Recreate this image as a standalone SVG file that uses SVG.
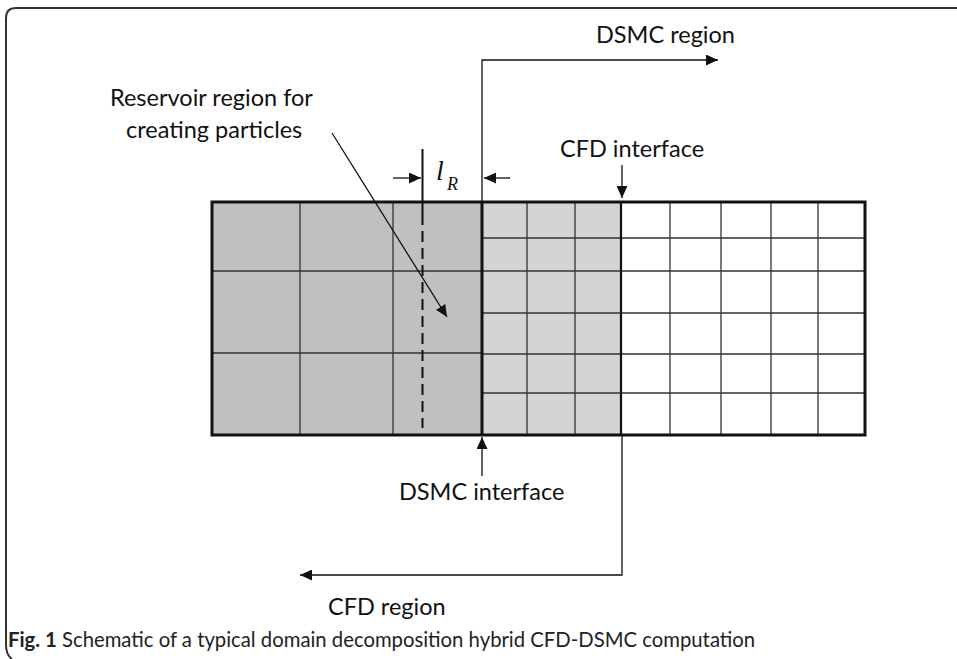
<svg xmlns="http://www.w3.org/2000/svg" width="957" height="659" viewBox="0 0 957 659">
<style>
.lbl{font-family:Lato,"Open Sans","DejaVu Sans",sans-serif;font-size:23.5px;fill:#111}
.grid{stroke:#333;stroke-width:1.3;fill:none}
.thick{stroke:#111;stroke-width:3;fill:none}
.con{stroke:#111;stroke-width:1.3;fill:none}
.cap{font-family:Lato,"Open Sans",sans-serif;font-size:20.3px;fill:#222}
</style>
<defs>
<marker id="ah" markerUnits="userSpaceOnUse" markerWidth="13" markerHeight="11" refX="12" refY="5.5" orient="auto">
<path d="M0,0 L12,5.5 L0,11 z" fill="#111"/>
</marker>
</defs>
<rect width="957" height="659" fill="#fff"/>
<path d="M957,8 H16 Q6,8 6,18 V645 Q6,655 12,659" fill="none" stroke="#333" stroke-width="2"/>

<g id="coarse-region">
<rect x="212" y="202" width="270" height="233" fill="#c0c0c0"/>
<path class="grid" d="M300,202 V435 M393,202 V435 M212,271 H482 M212,353 H482"/>
<path d="M422.5,149 V214" stroke="#111" stroke-width="2"/>
<path d="M422.5,214 V428" stroke="#111" stroke-width="2" stroke-dasharray="11,6"/>
</g>
<g id="dsmc-cells">
<rect x="482" y="202" width="139" height="233" fill="#d4d4d4"/>
<path class="grid" d="M527,202 V435 M575,202 V435 M482,238 H621 M482,271 H621 M482,313 H621 M482,354 H621 M482,393 H621"/>
</g>
<g id="cfd-cells">
<path class="grid" d="M670,202 V435 M721,202 V435 M771,202 V435 M818,202 V435 M621,238 H865 M621,271 H865 M621,313 H865 M621,354 H865 M621,393 H865"/>
</g>
<g id="outline">
<rect class="thick" x="212" y="202" width="653" height="233"/>
<path class="thick" d="M482,202 V435"/>
<path d="M621,202 V435" stroke="#111" stroke-width="2.2"/>
</g>

<g id="connectors">
<path class="con" d="M482,202 V60 H718" marker-end="url(#ah)"/>
<path class="con" d="M622,435 V575 H300" marker-end="url(#ah)"/>
<path class="con" d="M482,476 V437" marker-end="url(#ah)"/>
<path class="con" d="M622,165 V198" marker-end="url(#ah)"/>
<path class="con" d="M393,178 H421" marker-end="url(#ah)"/>
<path class="con" d="M510,178 H484" marker-end="url(#ah)"/>
<path class="con" d="M332,133 L447,317" marker-end="url(#ah)"/>
</g>

<g id="labels">
<text class="lbl" x="596" y="43">DSMC region</text>
<text class="lbl" x="110" y="106">Reservoir region for</text>
<text class="lbl" x="126" y="138">creating particles</text>
<text class="lbl" x="560" y="157">CFD interface</text>
<text class="lbl" x="399" y="500">DSMC interface</text>
<text class="lbl" x="328" y="615">CFD region</text>
<text x="436" y="180" font-family="'Liberation Serif',serif" font-style="italic" font-size="28" fill="#111">l</text>
<text x="447" y="190" font-family="'Liberation Serif',serif" font-style="italic" font-size="18" fill="#111">R</text>
<text class="cap" x="8" y="647"><tspan font-weight="bold">Fig. 1</tspan> Schematic of a typical domain decomposition hybrid CFD-DSMC computation</text>
</g>
</svg>
